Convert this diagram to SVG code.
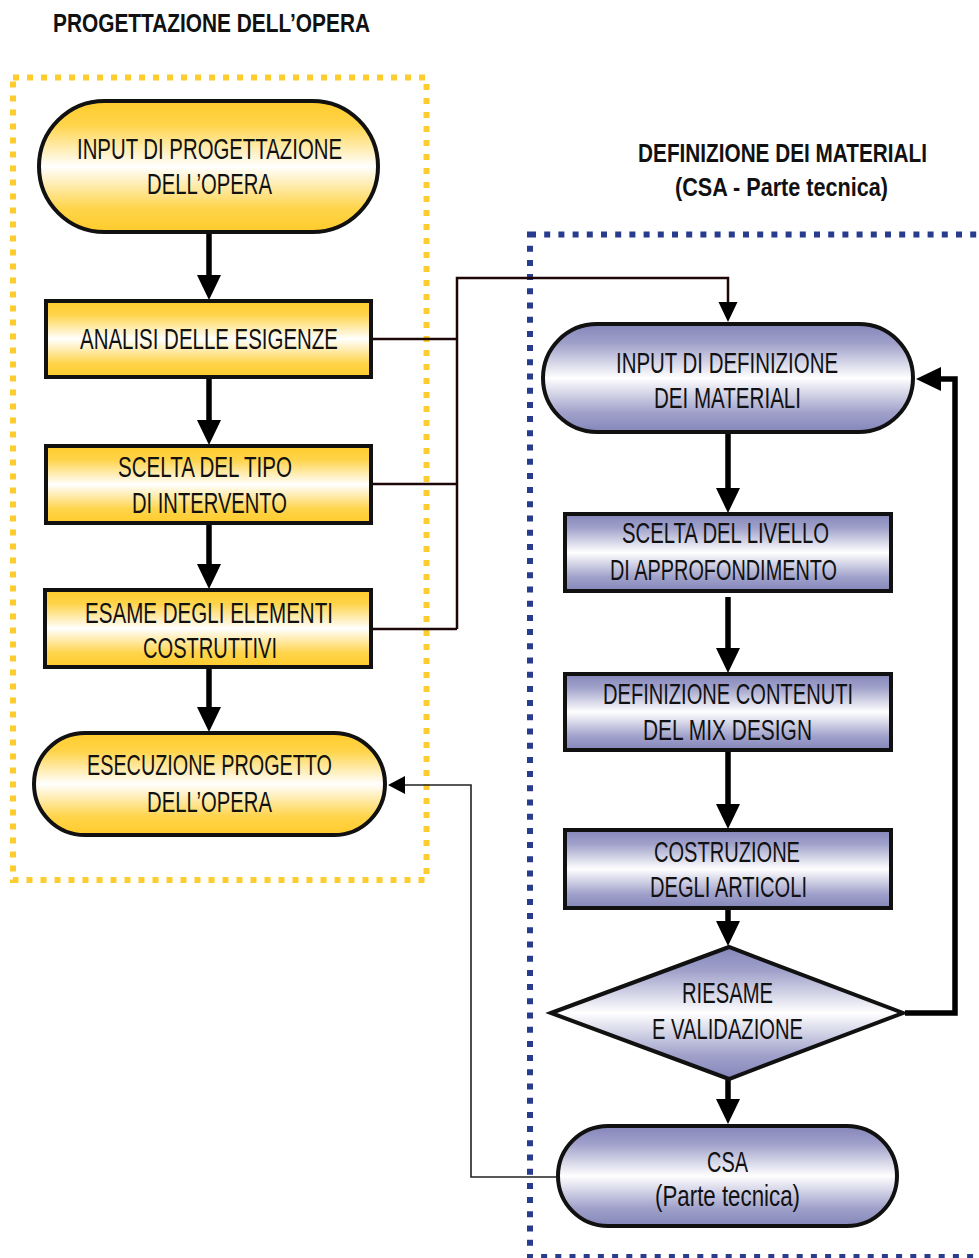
<svg xmlns="http://www.w3.org/2000/svg" width="979" height="1258" viewBox="0 0 979 1258">
<defs>
<linearGradient id="gy" x1="0" y1="0" x2="0" y2="1">
<stop offset="0" stop-color="#ffcc2c"/>
<stop offset="0.18" stop-color="#ffd44a"/>
<stop offset="0.5" stop-color="#ffffff"/>
<stop offset="0.82" stop-color="#ffd44a"/>
<stop offset="1" stop-color="#ffcc2c"/>
</linearGradient>
<linearGradient id="gb" x1="0" y1="0" x2="0" y2="1">
<stop offset="0" stop-color="#8486ba"/>
<stop offset="0.18" stop-color="#a0a1ca"/>
<stop offset="0.5" stop-color="#ffffff"/>
<stop offset="0.82" stop-color="#a0a1ca"/>
<stop offset="1" stop-color="#8486ba"/>
</linearGradient>
<marker id="ah" markerUnits="userSpaceOnUse" viewBox="0 0 25 24" markerWidth="25" markerHeight="24" refX="0" refY="12" orient="auto" overflow="visible">
<path d="M0,0 L25,12 L0,24 Z" fill="#000"/>
</marker>
<marker id="as" markerUnits="userSpaceOnUse" viewBox="0 0 20 19" markerWidth="20" markerHeight="19" refX="0" refY="9.5" orient="auto" overflow="visible">
<path d="M0,0 L20,9.5 L0,19 Z" fill="#000"/>
</marker>
<marker id="at" markerUnits="userSpaceOnUse" viewBox="0 0 17 18" markerWidth="17" markerHeight="18" refX="0" refY="9" orient="auto" overflow="visible">
<path d="M0,0 L17,9 L0,18 Z" fill="#000"/>
</marker>
</defs>
<style>
.t{font-family:"Liberation Sans",Arial,sans-serif;font-size:29px;fill:#111;text-anchor:middle}
.h{font-family:"Liberation Sans",Arial,sans-serif;font-size:26px;font-weight:bold;fill:#111;text-anchor:middle}
.ny{fill:url(#gy);stroke:#111;stroke-width:4}
.nb{fill:url(#gb);stroke:#111;stroke-width:4}
.thick{fill:none;stroke:#000;stroke-width:5.5;marker-end:url(#ah)}
.thin{fill:none;stroke:#1e0606;stroke-width:2.5}
</style>
<rect width="979" height="1258" fill="#fff"/>

<g id="frames">
<rect x="13" y="77.5" width="413.5" height="802.5" fill="none" stroke="#ffcc2e" stroke-width="6" stroke-dasharray="6 8"/>
<rect x="530" y="234.5" width="470" height="1022.5" fill="none" stroke="#283c8e" stroke-width="6" stroke-dasharray="6 8.2"/>
</g>

<g id="titles">
<text class="h" x="211.5" y="32" textLength="317" lengthAdjust="spacingAndGlyphs">PROGETTAZIONE DELL’OPERA</text>
<text class="h" transform="translate(782.5,162) scale(0.76,1)" x="0" y="0" textLength="380" lengthAdjust="spacingAndGlyphs">DEFINIZIONE DEI MATERIALI</text>
<text class="h" x="781.5" y="196" textLength="213" lengthAdjust="spacingAndGlyphs">(CSA - Parte tecnica)</text>
</g>

<g id="connectors">
<path class="thick" d="M209,234 V275"/>
<path class="thick" d="M209,379 V420"/>
<path class="thick" d="M209,525 V564"/>
<path class="thick" d="M209,669 V707"/>
<path class="thick" d="M728,434 V488"/>
<path class="thick" d="M728,597 V648"/>
<path class="thick" d="M728,752 V804"/>
<path class="thick" d="M728,910 V921"/>
<path class="thick" d="M728,1080 V1099"/>
<path class="thick" d="M905,1013 H955 V379 H941"/>
<path class="thin" d="M373,339 H457 M373,484 H457 M373,629 H457"/>
<path class="thin" d="M457,629 V278 H728 V302" marker-end="url(#as)"/>
<path fill="none" stroke="#222" stroke-width="1.6" d="M556,1177 H471 V785 H405" marker-end="url(#at)"/>
</g>

<g id="n1">
<rect class="ny" x="39" y="101" width="339" height="131" rx="65.5"/>
<text class="t" x="209.5" y="159" textLength="265" lengthAdjust="spacingAndGlyphs">INPUT DI PROGETTAZIONE</text>
<text class="t" x="209.5" y="194" textLength="125" lengthAdjust="spacingAndGlyphs">DELL’OPERA</text>
</g>
<g id="n2">
<rect class="ny" x="46" y="301" width="325" height="76"/>
<text class="t" x="209" y="349" textLength="258" lengthAdjust="spacingAndGlyphs">ANALISI DELLE ESIGENZE</text>
</g>
<g id="n3">
<rect class="ny" x="46" y="446" width="325" height="77"/>
<text class="t" x="205" y="477" textLength="174" lengthAdjust="spacingAndGlyphs">SCELTA DEL TIPO</text>
<text class="t" x="209.5" y="513" textLength="155" lengthAdjust="spacingAndGlyphs">DI INTERVENTO</text>
</g>
<g id="n4">
<rect class="ny" x="45" y="590" width="326" height="77"/>
<text class="t" x="209" y="623" textLength="248" lengthAdjust="spacingAndGlyphs">ESAME DEGLI ELEMENTI</text>
<text class="t" x="210" y="658" textLength="134" lengthAdjust="spacingAndGlyphs">COSTRUTTIVI</text>
</g>
<g id="n5">
<rect class="ny" x="34" y="733" width="351" height="102" rx="51"/>
<text class="t" x="209.5" y="775" textLength="245" lengthAdjust="spacingAndGlyphs">ESECUZIONE PROGETTO</text>
<text class="t" x="209.5" y="812" textLength="125" lengthAdjust="spacingAndGlyphs">DELL’OPERA</text>
</g>

<g id="m1">
<rect class="nb" x="543" y="324" width="370" height="108" rx="54"/>
<text class="t" x="727" y="373" textLength="222" lengthAdjust="spacingAndGlyphs">INPUT DI DEFINIZIONE</text>
<text class="t" x="727.5" y="408" textLength="147" lengthAdjust="spacingAndGlyphs">DEI MATERIALI</text>
</g>
<g id="m2">
<rect class="nb" x="565" y="514" width="326" height="77"/>
<text class="t" x="725.5" y="543" textLength="207" lengthAdjust="spacingAndGlyphs">SCELTA DEL LIVELLO</text>
<text class="t" x="723.5" y="580" textLength="227" lengthAdjust="spacingAndGlyphs">DI APPROFONDIMENTO</text>
</g>
<g id="m3">
<rect class="nb" x="565" y="674" width="326" height="76"/>
<text class="t" x="728" y="704" textLength="250" lengthAdjust="spacingAndGlyphs">DEFINIZIONE CONTENUTI</text>
<text class="t" x="727.5" y="740" textLength="169" lengthAdjust="spacingAndGlyphs">DEL MIX DESIGN</text>
</g>
<g id="m4">
<rect class="nb" x="565" y="830" width="326" height="78"/>
<text class="t" x="727" y="862" textLength="146" lengthAdjust="spacingAndGlyphs">COSTRUZIONE</text>
<text class="t" x="728.5" y="897" textLength="157" lengthAdjust="spacingAndGlyphs">DEGLI ARTICOLI</text>
</g>
<g id="m5">
<polygon class="nb" points="551,1013 729,947 903,1013 729,1079"/>
<text class="t" x="727.5" y="1003" textLength="91" lengthAdjust="spacingAndGlyphs">RIESAME</text>
<text class="t" x="727.5" y="1039" textLength="151" lengthAdjust="spacingAndGlyphs">E VALIDAZIONE</text>
</g>
<g id="m6">
<rect class="nb" x="558" y="1126" width="339" height="100" rx="50"/>
<text class="t" x="727.5" y="1172" textLength="41" lengthAdjust="spacingAndGlyphs">CSA</text>
<text class="t" x="727.5" y="1206" textLength="145" lengthAdjust="spacingAndGlyphs">(Parte tecnica)</text>
</g>
</svg>
